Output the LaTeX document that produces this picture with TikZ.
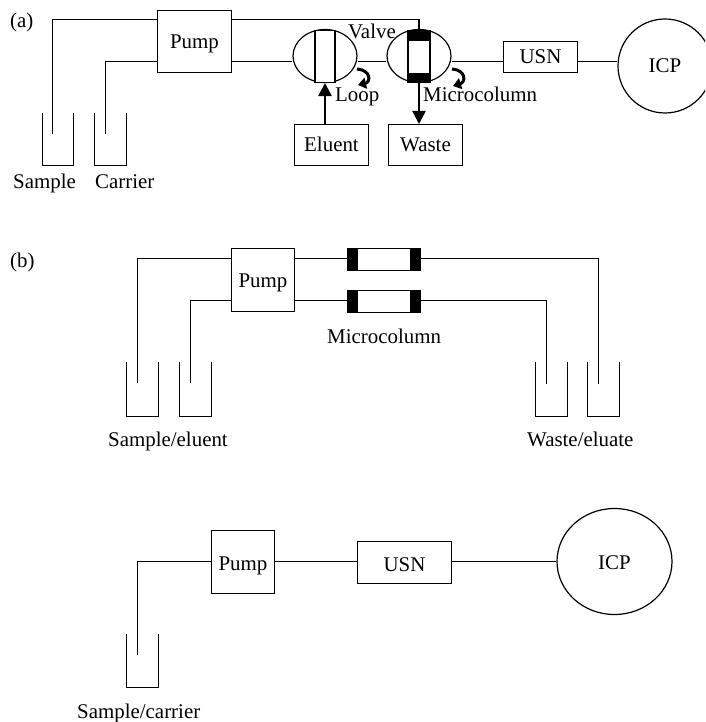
\documentclass[tikz,border=0pt]{standalone}
\usepackage{fontspec}
\setmainfont{Liberation Serif}
\usetikzlibrary{shapes.geometric,arrows.meta}
\tikzset{
  base font/.style={font=\fontsize{20.9}{22}\selectfont},
  wire/.style={line width=1.2pt,black},
  box/.style={draw,line width=1.2pt,black,rectangle,inner sep=0pt,text=black,base font,text height=14pt,text depth=0pt,align=center},
  lens/.style={draw,line width=1.2pt,black,ellipse,inner sep=0pt,minimum width=64pt,minimum height=53pt},
  tube/.style={draw,line width=1.2pt,black,fill=white,rectangle,inner sep=0pt},
  ring/.style={draw,line width=1.2pt,black,ellipse,inner sep=0pt,text=black,base font,text height=14pt,text depth=0pt},
  lbl/.style={base font,inner sep=0pt,anchor=base west},
  vessel/.style={line width=1.2pt,black},
  flow/.style={line width=1.2pt,black,-{Triangle[length=13pt,width=13.5pt]}},
  turn/.style={line width=3pt,black,-{Triangle[length=8pt,width=11pt]}}
}
\begin{document}
\begin{tikzpicture}[x=1pt,y=-1pt]
\clip (0,0) rectangle (705,722);
\fill[white] (0,0) rectangle (705,722);

% ---------- (a)
\node[lbl] (la) at (10,28) {(a)};
\node[box,minimum width=74pt,minimum height=62pt] (pumpA) at (194.5,41.5) {Pump};
\node[lens] (lensA1) at (325,56) {};
\node[lens] (lensA2) at (419,56) {};
\node[tube,minimum width=20pt,minimum height=52pt] (tubeA1) at (325,56.5) {};
\node[tube,minimum width=22pt,minimum height=52pt] (tubeA2) at (419,56.5) {};
\fill (tubeA2.north west) rectangle +(22,11.5);
\fill (tubeA2.south west) rectangle +(22,-10.5);
\node[box,minimum width=74pt,minimum height=31pt] (usnA) at (540.5,57) {USN};
\node[ring,minimum width=94pt,minimum height=94pt] (icpA) at (665,66) {ICP};
\node[box,minimum width=74pt,minimum height=41pt] (eluent) at (331.5,145) {Eluent};
\node[box,minimum width=74pt,minimum height=41pt] (waste) at (425.5,145) {Waste};
\node[lbl] (lvalve) at (348,39) {Valve};
\node[lbl] (lloop) at (335,102) {Loop};
\node[lbl] (lmicA) at (423,102) {Microcolumn};
\node[lbl] (lsample) at (13,188) {Sample};
\node[lbl] (lcarrier) at (95,188) {Carrier};
\coordinate (tipSample) at (52.5,134);
\coordinate (tipCarrier) at (105.5,134);
\draw[vessel] (42.5,113) -- (42.5,165.5) -- (73.5,165.5) -- (73.5,113);
\draw[vessel] (94.5,113) -- (94.5,165.5) -- (126.5,165.5) -- (126.5,113);
\draw[wire] (tipSample) |- (pumpA.west |- 0,19.5);
\draw[wire] (tipCarrier) |- (pumpA.west |- 0,61.5);
\draw[wire] (pumpA.east |- 0,19.5) -| (tubeA2.north);
\draw[wire] (pumpA.east |- 0,61.5) -- (lensA1.west |- 0,61.5);
\draw[wire] (lensA1.east |- 0,61.5) -- (lensA2.west |- 0,61.5);
\draw[wire] (lensA2.east |- 0,61.5) -- (usnA.west |- 0,61.5);
\draw[wire] (usnA.east |- 0,61.5) -- (icpA.west |- 0,61.5);
\draw[flow] (tubeA1.south |- eluent.north) -- (tubeA1.south);
\draw[flow] (tubeA2.south) -- (tubeA2.south |- waste.north);
\coordinate (hookA0) at (357,69);
\coordinate (hookA1) at (358,85);
\coordinate (hookB0) at (452,69);
\coordinate (hookB1) at (453,86);
\draw[turn] (hookA0) .. controls (371,70) and (371,82) .. (hookA1);
\draw[turn] (hookB0) .. controls (466,70) and (466,82) .. (hookB1);

% ---------- (b)
\node[lbl] (lb) at (10,267) {(b)};
\node[box,minimum width=63pt,minimum height=63pt] (pumpB) at (263,280) {Pump};
\node[tube,minimum width=73pt,minimum height=22pt] (colB1) at (384,259.5) {};
\node[tube,minimum width=73pt,minimum height=22pt] (colB2) at (384,301.5) {};
\fill (colB1.north west) rectangle +(11,22);
\fill (colB1.north east) rectangle +(-11,22);
\fill (colB2.north west) rectangle +(11,22);
\fill (colB2.north east) rectangle +(-11,22);
\node[lbl] (lmicB) at (327,343) {Microcolumn};
\node[lbl] (lse) at (108,446) {Sample/eluent};
\node[lbl] (lwe) at (527,446) {Waste/eluate};
\coordinate (tipB1) at (137.5,383);
\coordinate (tipB2) at (190.5,383);
\coordinate (tipB3) at (546.5,384);
\coordinate (tipB4) at (598.5,384);
\draw[vessel] (126.5,362) -- (126.5,416.5) -- (158.5,416.5) -- (158.5,362);
\draw[vessel] (179.5,362) -- (179.5,416.5) -- (211.5,416.5) -- (211.5,362);
\draw[vessel] (535.5,362) -- (535.5,416.5) -- (567.5,416.5) -- (567.5,362);
\draw[vessel] (587.5,362) -- (587.5,416.5) -- (619.5,416.5) -- (619.5,362);
\draw[wire] (tipB1) |- (pumpB.west |- 0,258.5);
\draw[wire] (tipB2) |- (pumpB.west |- 0,300.5);
\draw[wire] (pumpB.east |- 0,258.5) -- (colB1.west |- 0,258.5);
\draw[wire] (pumpB.east |- 0,300.5) -- (colB2.west |- 0,300.5);
\draw[wire] (colB1.east |- 0,258.5) -| (tipB4);
\draw[wire] (colB2.east |- 0,300.5) -| (tipB3);

% ---------- lower
\node[box,minimum width=63pt,minimum height=63pt,text height=16pt] (pumpC) at (243,562) {Pump};
\node[box,minimum width=94pt,minimum height=42pt,text height=17pt] (usnC) at (404.5,562.5) {USN};
\node[ring,minimum width=115pt,minimum height=106pt,text height=16pt] (icpC) at (614.5,561.5) {ICP};
\node[lbl] (lsc) at (77,718) {Sample/carrier};
\coordinate (tipC) at (137.5,655);
\draw[vessel] (126.5,634) -- (126.5,687.5) -- (158.5,687.5) -- (158.5,634);
\draw[wire] (tipC) |- (pumpC.west |- 0,561.5);
\draw[wire] (pumpC.east |- 0,561.5) -- (usnC.west |- 0,561.5);
\draw[wire] (usnC.east |- 0,561.5) -- (icpC.west);
\end{tikzpicture}
\end{document}
